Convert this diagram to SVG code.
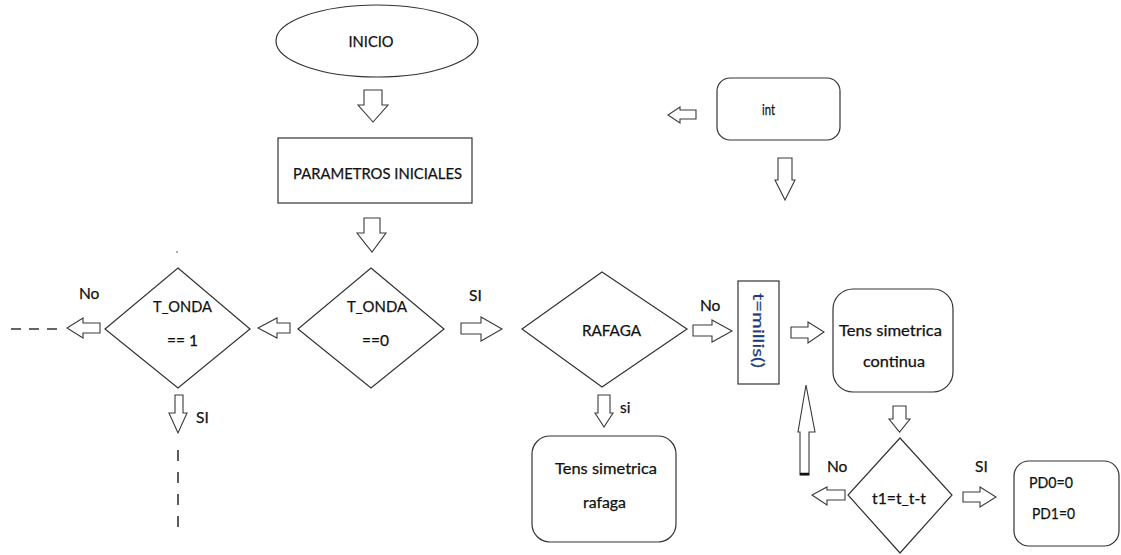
<svg xmlns="http://www.w3.org/2000/svg" width="1121" height="555" viewBox="0 0 1121 555">
  <style>
    .shape { fill: #ffffff; stroke: #333333; stroke-width: 1.2; }
    .arrow { fill: #ffffff; stroke: #3a3a3a; stroke-width: 1.1; stroke-linejoin: miter; }
    .dash { fill: none; stroke: #333333; stroke-width: 1.6; }
    text { font-family: Lato, "Open Sans", "Liberation Sans", sans-serif; font-size: 15.5px; fill: #111111; stroke: #111111; stroke-width: 0.25; }
    .mid { text-anchor: middle; }
    .millis { fill: #1f3c7a; stroke: #1f3c7a; }
  </style>

  <rect width="1121" height="555" fill="#ffffff"/>

  <!-- Nodes -->
  <g id="inicio">
    <ellipse class="shape" cx="377" cy="41" rx="101" ry="36"/>
    <text class="mid" x="371" y="47" textLength="45" lengthAdjust="spacingAndGlyphs">INICIO</text>
  </g>

  <g id="parametros">
    <rect class="shape" x="278" y="138" width="194" height="65"/>
    <text class="mid" x="377.5" y="179" textLength="169" lengthAdjust="spacingAndGlyphs">PARAMETROS INICIALES</text>
  </g>

  <g id="tonda0">
    <polygon class="shape" points="371,268 444,329 371,388 298,329"/>
    <text class="mid" x="377" y="312" textLength="60" lengthAdjust="spacingAndGlyphs">T_ONDA</text>
    <text class="mid" x="375.5" y="346" textLength="27" lengthAdjust="spacingAndGlyphs">==0</text>
  </g>

  <g id="tonda1">
    <polygon class="shape" points="178,268 250,329 178,388 105,329"/>
    <text class="mid" x="182.5" y="312" textLength="59" lengthAdjust="spacingAndGlyphs">T_ONDA</text>
    <text class="mid" x="182.5" y="346" textLength="31" lengthAdjust="spacingAndGlyphs">== 1</text>
  </g>

  <g id="rafaga">
    <polygon class="shape" points="602,272 687,329 602,387 522,329"/>
    <text class="mid" x="611.5" y="336" textLength="59" lengthAdjust="spacingAndGlyphs">RAFAGA</text>
  </g>

  <g id="tens-rafaga">
    <rect class="shape" x="532" y="436" width="144" height="106" rx="18" ry="18"/>
    <text class="mid" x="606" y="474" textLength="102" lengthAdjust="spacingAndGlyphs">Tens simetrica</text>
    <text class="mid" x="604.5" y="508" textLength="43" lengthAdjust="spacingAndGlyphs">rafaga</text>
  </g>

  <g id="int">
    <rect class="shape" x="717" y="78" width="123" height="62" rx="13" ry="13"/>
    <text class="mid" x="768.5" y="115" textLength="13" lengthAdjust="spacingAndGlyphs">int</text>
  </g>

  <g id="millis">
    <rect class="shape" x="738" y="281" width="41" height="103"/>
    <text class="millis" transform="translate(753,293) rotate(90)" x="0" y="0" textLength="75" lengthAdjust="spacingAndGlyphs">t=millis()</text>
  </g>

  <g id="tens-continua">
    <rect class="shape" x="833" y="289" width="120" height="103" rx="20" ry="20"/>
    <text class="mid" x="890.5" y="336" textLength="103" lengthAdjust="spacingAndGlyphs">Tens simetrica</text>
    <text class="mid" x="894" y="367" textLength="62" lengthAdjust="spacingAndGlyphs">continua</text>
  </g>

  <g id="t1-check">
    <polygon class="shape" points="900,438 952,495 900,553 848,495"/>
    <text class="mid" x="899" y="504" textLength="54" lengthAdjust="spacingAndGlyphs">t1=t_t-t</text>
  </g>

  <g id="pd-reset">
    <rect class="shape" x="1014" y="461" width="105" height="85" rx="15" ry="15"/>
    <text x="1029" y="488" textLength="44" lengthAdjust="spacingAndGlyphs">PD0=0</text>
    <text x="1032" y="519" textLength="43" lengthAdjust="spacingAndGlyphs">PD1=0</text>
  </g>

  <!-- Connectors: block arrows, dashed continuations and branch labels -->
  <g id="connectors">
    <!-- INICIO to PARAMETROS -->
    <polygon class="arrow" points="364,90 382,90 382,105 388,105 373,122 358,105 364,105"/>
    <!-- PARAMETROS to T_ONDA==0 -->
    <polygon class="arrow" points="364,218 380,218 380,233 386,233 372,252 357,233 364,233"/>
    <!-- T_ONDA==0 to T_ONDA==1 -->
    <polygon class="arrow" points="290,323 290,333 277,333 277,338 258,328 277,318 277,323"/>
    <!-- T_ONDA==1 No branch -->
    <polygon class="arrow" points="100,323 100,333 83,333 83,338 67,328 83,318 83,323"/>
    <line class="dash" x1="11" y1="329" x2="60" y2="329" stroke-dasharray="10,8"/>
    <text x="79" y="299">No</text>
    <!-- T_ONDA==1 SI branch -->
    <polygon class="arrow" points="175,395 183,395 183,413 187,413 178,433 169,413 175,413"/>
    <line class="dash" x1="178" y1="450" x2="178" y2="531" stroke-dasharray="11,11"/>
    <text x="196" y="423">SI</text>
    <circle cx="177" cy="252" r="0.9" fill="#888888"/>
    <!-- T_ONDA==0 SI to RAFAGA -->
    <polygon class="arrow" points="461,323 481,323 481,317 502,329 481,341 481,334 461,334"/>
    <text x="469" y="301">SI</text>
    <!-- RAFAGA No to t=millis() -->
    <polygon class="arrow" points="693,325 712,325 712,320 732,331 712,342 712,336 693,336"/>
    <text x="700" y="311">No</text>
    <!-- RAFAGA si to Tens simetrica rafaga -->
    <polygon class="arrow" points="598,395 610,395 610,413 613,413 604,427 595,413 598,413"/>
    <text x="620" y="413">si</text>
    <!-- t=millis() to Tens simetrica continua -->
    <polygon class="arrow" points="791,327 808,327 808,322 824,332 808,343 808,338 791,338"/>
    <!-- continua to t1 check -->
    <polygon class="arrow" points="893,406 906,406 906,419 910,419 899.5,432 889,419 893,419"/>
    <!-- t1 No: back left and up to t=millis() -->
    <polygon class="arrow" points="845,490 845,500 827,500 827,505 812,495 827,487 827,490"/>
    <text x="827" y="472">No</text>
    <polygon class="arrow" points="800,475 809,475 809,432 815,432 806,385 798,432 800,432"/>
    <line x1="800" y1="474" x2="809" y2="474" stroke="#111111" stroke-width="2.5"/>
    <!-- t1 SI to PD reset -->
    <polygon class="arrow" points="963,492 980,492 980,487 996,497 980,507 980,502 963,502"/>
    <text x="975" y="472">SI</text>
    <!-- int arrows -->
    <polygon class="arrow" points="696,110 696,119 680,119 680,123 668,115 680,107 680,110"/>
    <polygon class="arrow" points="778,158 792,158 792,180 795,180 785,200 775,180 778,180"/>
  </g>
</svg>
